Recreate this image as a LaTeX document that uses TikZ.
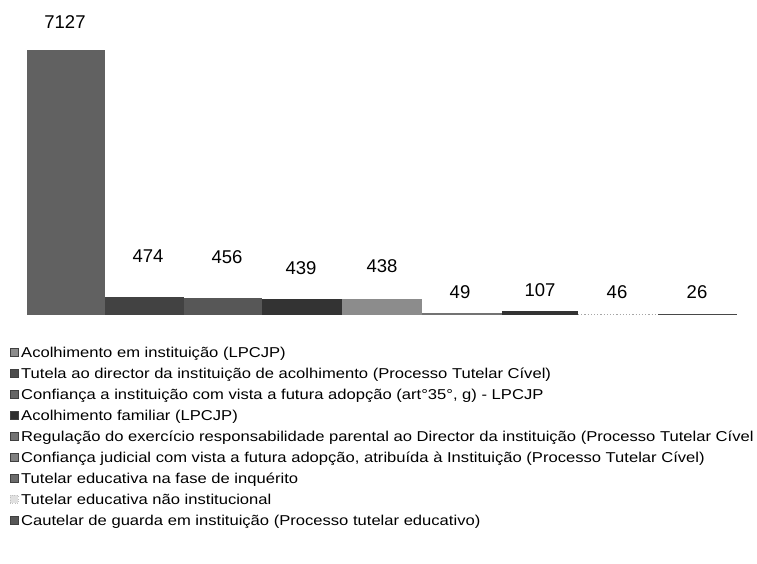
\documentclass[tikz,border=0pt]{standalone}
\usepackage{fontspec}
\setmainfont{Liberation Sans}
\newfontfamily\legfont{Liberation Sans}[FakeStretch=1.16]
\begin{document}
\begin{tikzpicture}[x=1pt,y=-1pt,
  val/.style={font=\fontsize{18.5}{20}\selectfont, inner sep=0pt, anchor=center},
  leg/.style={font=\legfont\fontsize{14.3}{16}\selectfont, inner sep=0pt, anchor=base west},
  ico/.style={minimum size=8pt, inner sep=0pt, draw=black!75, line width=0.4pt}]
\useasboundingbox (0,0) rectangle (757,563);
\fill[white] (0,0) rectangle (757,563);
% bars (bottom at y=315, scale 265/7127 px per unit)
\fill[black!62] (27,315) rectangle (105,50);
\fill[black!74] (105,315) rectangle (184,297.4);
\fill[black!66] (184,315) rectangle (262,298.0);
\fill[black!80] (262,315) rectangle (342,298.7);
\fill[black!45] (342,315) rectangle (422,298.7);
\fill[black!55] (422,315) rectangle (502,313.2);
\fill[black!80] (502,315) rectangle (578,311.0);
\draw[black!35, dotted, line width=1.2pt] (578,314.2) -- (658,314.2);
\fill[black!72] (658,315) rectangle (737,313.8);
% value labels
\node[val] (v1) at (65,22) {7127};
\node[val] (v2) at (148,256) {474};
\node[val] (v3) at (227,257) {456};
\node[val] (v4) at (301,268) {439};
\node[val] (v5) at (382,266) {438};
\node[val] (v6) at (460,292) {49};
\node[val] (v7) at (540,290) {107};
\node[val] (v8) at (617,292) {46};
\node[val] (v9) at (697,292) {26};
% legend
\node[ico, fill=black!45] (i1) at (14,352) {};
\node[ico, fill=black!70] (i2) at (14,373) {};
\node[ico, fill=black!60] (i3) at (14,394) {};
\node[ico, fill=black!82] (i4) at (14,415) {};
\node[ico, fill=black!55] (i5) at (14,436) {};
\node[ico, fill=black!50] (i6) at (14,457) {};
\node[ico, fill=black!58] (i7) at (14,478) {};
\node[ico, draw=black!25, fill=black!12, dotted] (i8) at (14,499) {};
\node[ico, fill=black!66] (i9) at (14,520) {};
\node[leg] (t1) at (21,357) {Acolhimento em instituição (LPCJP)};
\node[leg] (t2) at (21,378) {Tutela ao director da instituição de acolhimento (Processo Tutelar Cível)};
\node[leg] (t3) at (21,399) {Confiança a instituição com vista a futura adopção (art°35°, g) - LPCJP};
\node[leg] (t4) at (21,420) {Acolhimento familiar (LPCJP)};
\node[leg] (t5) at (21,441) {Regulação do exercício responsabilidade parental ao Director da instituição (Processo Tutelar Cível};
\node[leg] (t6) at (21,462) {Confiança judicial com vista a futura adopção, atribuída à Instituição (Processo Tutelar Cível)};
\node[leg] (t7) at (21,483) {Tutelar educativa na fase de inquérito};
\node[leg] (t8) at (21,504) {Tutelar educativa não institucional};
\node[leg] (t9) at (21,525) {Cautelar de guarda em instituição (Processo tutelar educativo)};
\end{tikzpicture}
\end{document}
